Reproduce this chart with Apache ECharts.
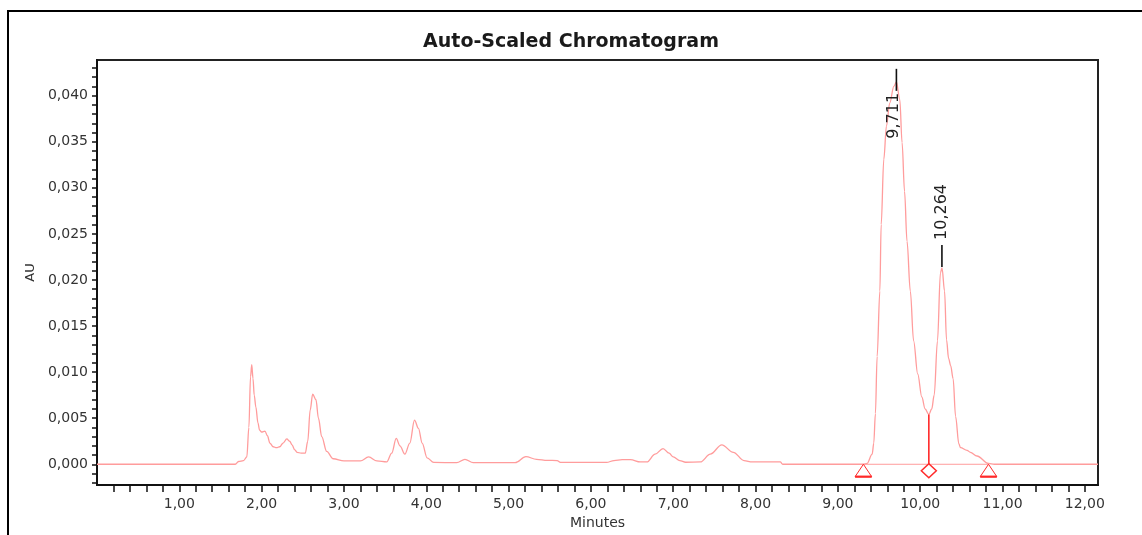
<!DOCTYPE html>
<html>
<head>
<meta charset="utf-8">
<title>Auto-Scaled Chromatogram</title>
<script src="https://cdn.jsdelivr.net/npm/echarts@6/dist/echarts.min.js"></script>
<style>
  html, body { margin: 0; padding: 0; background: #fff; }
  #chart { width: 1142px; height: 535px; }
</style>
</head>
<body>
<div id="chart"></div>
<script>
// Detector trace: retention time (min) and absorbance (AU)
const traceTime = [
  0, 1.68, 1.72, 1.78, 1.82, 1.845, 1.865, 1.88, 1.895, 1.91, 1.93, 1.955, 1.975, 2.0,
  2.04, 2.07, 2.10, 2.14, 2.18, 2.22, 2.26, 2.306, 2.34, 2.37, 2.40, 2.43, 2.48, 2.53,
  2.56, 2.59, 2.62, 2.66, 2.69, 2.73, 2.79, 2.87, 3.0, 3.2, 3.30, 3.40, 3.52, 3.58,
  3.635, 3.68, 3.74, 3.80, 3.857, 3.905, 3.95, 4.01, 4.09, 4.37, 4.47, 4.57, 5.08,
  5.21, 5.34, 5.47, 5.59, 5.63, 6.19, 6.28, 6.38, 6.48, 6.60, 6.68, 6.78, 6.876,
  6.95, 7.0, 7.08, 7.15, 7.33, 7.45, 7.59, 7.73, 7.86, 7.96, 8.30, 8.33, 9.31,
  9.355, 9.417, 9.436, 9.456, 9.477, 9.51, 9.526, 9.558, 9.59, 9.63, 9.68, 9.711,
  9.752, 9.78, 9.81, 9.84, 9.88, 9.92, 9.97, 10.02, 10.06, 10.105, 10.14, 10.17,
  10.21, 10.246, 10.265, 10.296, 10.32, 10.345, 10.37, 10.40, 10.43, 10.47, 10.49,
  10.57, 10.61, 10.69, 10.83, 10.9, 12.16
];
const traceAU = [
  0, 0, 0.0003, 0.0004, 0.0008, 0.0040, 0.0095, 0.0108, 0.0093, 0.0075, 0.0062, 0.0045, 0.0037, 0.0035,
  0.0036, 0.0031, 0.0023, 0.0019, 0.0018, 0.0019, 0.0023, 0.00275, 0.0025, 0.0021, 0.0016, 0.0013, 0.0012, 0.0012,
  0.0025, 0.0059, 0.0076, 0.0070, 0.0050, 0.0030, 0.0014, 0.0006, 0.00036, 0.00036, 0.0008, 0.00036, 0.00025, 0.0012,
  0.0028, 0.0020, 0.0011, 0.0023, 0.0048, 0.0039, 0.0023, 0.0007, 0.0002, 0.00017, 0.00054, 0.00017, 0.00017,
  0.00082, 0.00054, 0.00043, 0.0004, 0.0002, 0.0002, 0.0004, 0.0005, 0.0005, 0.00025, 0.00025, 0.0011, 0.0017,
  0.0012, 0.0008, 0.0004, 0.00022, 0.00025, 0.0011, 0.0021, 0.0013, 0.0004, 0.00025, 0.00025, 0, 0,
  0.0001, 0.0011, 0.0023, 0.0055, 0.0117, 0.0188, 0.0260, 0.0331, 0.0367, 0.0392, 0.0410, 0.0415,
  0.0396, 0.0349, 0.0296, 0.0242, 0.0188, 0.0134, 0.0098, 0.0073, 0.0060, 0.0054, 0.0060, 0.0075,
  0.0134, 0.0208, 0.0213, 0.0188, 0.0135, 0.0115, 0.0107, 0.0093, 0.0052, 0.0022, 0.0018,
  0.0015, 0.0013, 0.0009, 0.0001, 0, 0
];

// Integrated peaks: apex retention time and apex height
const peakTimes = [9.711, 10.264];
const peakApexAU = [0.0415, 0.0213];
const peakLabels = ['9,711', '10,264'];

// Integration events: start/end of baseline and the valley drop line
const baselineTimes = [9.31, 10.83];
const valleyTime = 10.105;
const valleyAU = 0.0054;

// Axis ticks
const xTickLabels = [1, 2, 3, 4, 5, 6, 7, 8, 9, 10, 11, 12];
const yTickLabels = [0, 0.005, 0.010, 0.015, 0.020, 0.025, 0.030, 0.035, 0.040];
const xMin = 0, xMax = 12.16;
const yMin = -0.00226, yMax = 0.04387;

// minor tick positions (every 0.2 min / 0.001 AU) for the tick marks
const xMinorTicks = [];
for (let i = 1; i * 0.2 <= xMax; i++) xMinorTicks.push(+(i * 0.2).toFixed(2));
const yMinorTicks = [];
for (let i = -2; i * 0.001 <= yMax; i++) yMinorTicks.push(+(i * 0.001).toFixed(3));

const TRACE = '#ff9c9c';
const MARK = '#ff2a2a';
const FONT = 'DejaVu Sans';

const traceData = traceTime.map((t, i) => [t, traceAU[i]]);

// Peak apex labels: a short tick at the apex and the rotated retention time.
// layout per peak: tick span relative to apex (px) and text centre offset
const labelLayout = [
  { tickTop: -13, tickBottom: 9, textDx: -3, textDy: 34 },
  { tickTop: -23, tickBottom: -1, textDx: 0, textDy: -56 }
];

const chart = echarts.init(document.getElementById('chart'), null, { renderer: 'canvas' });

chart.setOption({
  animation: false,
  backgroundColor: '#fff',
  title: {
    text: 'Auto-Scaled Chromatogram',
    left: 'center',
    top: 28,
    textStyle: { fontFamily: FONT, fontSize: 19, fontWeight: 'bold', color: '#1a1a1a' }
  },
  graphic: [{
    type: 'rect',
    shape: { x: 8, y: 11, width: 1300, height: 700 },
    style: { fill: 'none', stroke: '#000', lineWidth: 2 },
    silent: true
  }],
  grid: {
    left: 97, top: 60, width: 1001, height: 428,
    show: true, borderColor: '#222', borderWidth: 2, backgroundColor: 'transparent'
  },
  xAxis: {
    type: 'value', min: xMin, max: xMax,
    name: 'Minutes', nameLocation: 'middle', nameGap: 26,
    nameTextStyle: { fontFamily: FONT, fontSize: 14, color: '#333' },
    axisLine: { show: true, onZero: false, lineStyle: { color: '#111', width: 2 } },
    axisTick: { show: true, customValues: xMinorTicks, length: 7, lineStyle: { color: '#111', width: 1.5 } },
    axisLabel: {
      customValues: xTickLabels, margin: 12,
      fontFamily: FONT, fontSize: 14, color: '#333',
      formatter: v => v.toFixed(2).replace('.', ',')
    },
    splitLine: { show: false }
  },
  yAxis: {
    type: 'value', min: yMin, max: yMax,
    name: 'AU', nameLocation: 'middle', nameGap: 56,
    nameTextStyle: { fontFamily: FONT, fontSize: 13, color: '#333' },
    axisLine: { show: true, onZero: false, lineStyle: { color: '#111', width: 2 } },
    axisTick: { show: true, customValues: yMinorTicks, length: 5, lineStyle: { color: '#111', width: 1.5 } },
    axisLabel: {
      customValues: yTickLabels, margin: 9,
      fontFamily: FONT, fontSize: 14, color: '#333',
      formatter: v => v.toFixed(3).replace('.', ',')
    },
    splitLine: { show: false }
  },
  series: [
    {
      // integration baseline between start and end markers
      type: 'line',
      data: baselineTimes.map(t => [t, 0]),
      symbol: 'none',
      lineStyle: { color: TRACE, width: 1 },
      silent: true, z: 2
    },
    {
      type: 'line',
      data: traceData,
      symbol: 'none',
      smooth: 0.35,
      smoothMonotone: 'x',
      lineStyle: { color: TRACE, width: 1.3 },
      silent: true, z: 3
    },
    {
      // valley drop line between the two peaks
      type: 'line',
      data: [[valleyTime, 0], [valleyTime, valleyAU]],
      symbol: 'none',
      lineStyle: { color: MARK, width: 1.6 },
      silent: true, z: 4
    },
    {
      // baseline start/end triangles
      type: 'custom',
      data: baselineTimes.map(t => [t, 0]),
      z: 5, silent: true,
      renderItem: (params, api) => {
        const p = api.coord([api.value(0), api.value(1)]);
        const w = 8.3, h = 12.4;
        return {
          type: 'group',
          children: [
            { type: 'polygon', shape: { points: [[p[0], p[1]], [p[0] - w, p[1] + h], [p[0] + w, p[1] + h]] },
              style: { fill: 'none', stroke: MARK, lineWidth: 1 } },
            { type: 'line', shape: { x1: p[0] - w, y1: p[1] + h, x2: p[0] + w, y2: p[1] + h },
              style: { stroke: MARK, lineWidth: 2.2 } }
          ]
        };
      }
    },
    {
      // valley drop marker
      type: 'custom',
      data: [[valleyTime, 0]],
      z: 5, silent: true,
      renderItem: (params, api) => {
        const p = api.coord([api.value(0), api.value(1)]);
        const cy = p[1] + 6.5, w = 7.5, h = 7;
        return {
          type: 'polygon',
          shape: { points: [[p[0], cy - h], [p[0] + w, cy], [p[0], cy + h], [p[0] - w, cy]] },
          style: { fill: '#fff', stroke: MARK, lineWidth: 1.5 }
        };
      }
    },
    {
      // apex ticks and retention time labels
      type: 'custom',
      data: peakTimes.map((t, i) => [t, peakApexAU[i], i]),
      z: 6, silent: true,
      renderItem: (params, api) => {
        const i = api.value(2);
        const lay = labelLayout[i];
        const p = api.coord([api.value(0), api.value(1)]);
        return {
          type: 'group',
          children: [
            { type: 'line', shape: { x1: p[0], y1: p[1] + lay.tickTop, x2: p[0], y2: p[1] + lay.tickBottom },
              style: { stroke: '#111', lineWidth: 1.6 } },
            { type: 'text', x: p[0] + lay.textDx, y: p[1] + lay.textDy, rotation: Math.PI / 2,
              style: { text: peakLabels[i], fill: '#222', font: '16px "DejaVu Sans"',
                       align: 'center', verticalAlign: 'middle' } }
          ]
        };
      }
    }
  ]
});
</script>
</body>
</html>
